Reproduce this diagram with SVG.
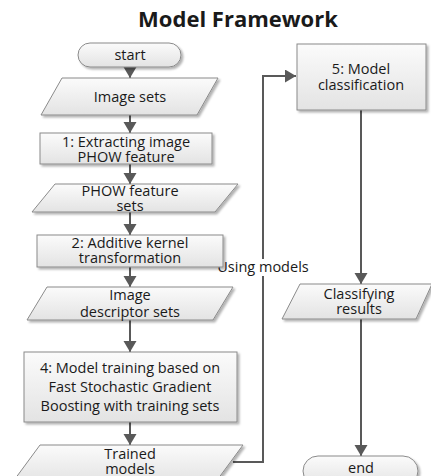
<svg xmlns="http://www.w3.org/2000/svg" width="431" height="476" viewBox="0 0 431 476">
<defs>
<linearGradient id="g" x1="0" y1="0" x2="0" y2="1">
<stop offset="0" stop-color="#fbfbfb"/>
<stop offset="1" stop-color="#e3e3e3"/>
</linearGradient>
<filter id="sh" x="-10%" y="-10%" width="130%" height="140%">
<feDropShadow dx="2" dy="2" stdDeviation="1.2" flood-color="#000" flood-opacity="0.3"/>
</filter>
<marker id="arr" markerUnits="userSpaceOnUse" markerWidth="12" markerHeight="14" refX="11" refY="6.5" orient="auto">
<path d="M0,0 L11,6.5 L0,13 z" fill="#595959"/>
</marker>
</defs>
<style>
.s{fill:url(#g);stroke:#8a8a8a;stroke-width:1;filter:url(#sh)}
.t{font-family:"Open Sans","DejaVu Sans",sans-serif;font-size:14.5px;fill:#1a1a1a;text-anchor:middle}
.c{fill:none;stroke:#595959;stroke-width:2}
.ti{font-family:"Open Sans","DejaVu Sans",sans-serif;font-size:22px;font-weight:bold;fill:#1a1a1a;text-anchor:middle}
</style>
<rect width="431" height="476" fill="#fff"/>
<text class="ti" x="238" y="27">Model Framework</text>
<g id="connectors">
<line class="c" x1="130" y1="67" x2="130" y2="78" marker-end="url(#arr)"/>
<line class="c" x1="130" y1="115" x2="130" y2="133" marker-end="url(#arr)"/>
<line class="c" x1="130" y1="164" x2="130" y2="184" marker-end="url(#arr)"/>
<line class="c" x1="130" y1="212" x2="130" y2="235" marker-end="url(#arr)"/>
<line class="c" x1="130" y1="267" x2="130" y2="287" marker-end="url(#arr)"/>
<line class="c" x1="130" y1="320" x2="130" y2="352" marker-end="url(#arr)"/>
<line class="c" x1="130" y1="422" x2="130" y2="445" marker-end="url(#arr)"/>
<polyline class="c" points="233,462 263,462 263,76 296,76" marker-end="url(#arr)"/>
<line class="c" x1="361" y1="110" x2="361" y2="284" marker-end="url(#arr)"/>
<line class="c" x1="361" y1="319" x2="361" y2="456" marker-end="url(#arr)"/>
<g id="label-using">
<rect x="213" y="259" width="100" height="17" fill="#fff"/>
<text class="t" x="263" y="272">Using models</text>
</g>
</g>
<g id="start">
<rect class="s" x="78" y="43" width="103" height="24" rx="12"/>
<text class="t" x="130" y="60">start</text>
</g>
<g id="image-sets">
<polygon class="s" points="62,78 218,78 197,115 41,115"/>
<text class="t" x="130" y="102">Image sets</text>
</g>
<g id="step1">
<rect class="s" x="40" y="133" width="172" height="31"/>
<text class="t" x="126" y="147">1: Extracting image</text>
<text class="t" x="126" y="162">PHOW feature</text>
</g>
<g id="phow-sets">
<polygon class="s" points="55,184 238,184 215,212 32,212"/>
<text class="t" x="130" y="196">PHOW feature</text>
<text class="t" x="130" y="211">sets</text>
</g>
<g id="step2">
<rect class="s" x="37" y="235" width="186" height="32"/>
<text class="t" x="130" y="248">2: Additive kernel</text>
<text class="t" x="130" y="263">transformation</text>
</g>
<g id="descriptor-sets">
<polygon class="s" points="47,287 233,287 213,320 27,320"/>
<text class="t" x="130" y="300">Image</text>
<text class="t" x="130" y="317">descriptor sets</text>
</g>
<g id="step4">
<rect class="s" x="24" y="352" width="213" height="70"/>
<text class="t" x="130" y="373">4: Model training based on</text>
<text class="t" x="130" y="392">Fast Stochastic Gradient</text>
<text class="t" x="130" y="411">Boosting with training sets</text>
</g>
<g id="trained-models">
<polygon class="s" points="40,445 243,445 215,483 12,483"/>
<text class="t" x="130" y="459">Trained</text>
<text class="t" x="130" y="474">models</text>
</g>
<g id="step5">
<rect class="s" x="297" y="44" width="129" height="66"/>
<text class="t" x="361" y="74">5: Model</text>
<text class="t" x="361" y="90">classification</text>
</g>
<g id="classifying-results">
<polygon class="s" points="300,284 432,284 416,319 282,319"/>
<text class="t" x="359" y="299">Classifying</text>
<text class="t" x="359" y="314">results</text>
</g>
<g id="end">
<rect class="s" x="303" y="456" width="115" height="30" rx="15"/>
<text class="t" x="361" y="473">end</text>
</g>
</svg>
